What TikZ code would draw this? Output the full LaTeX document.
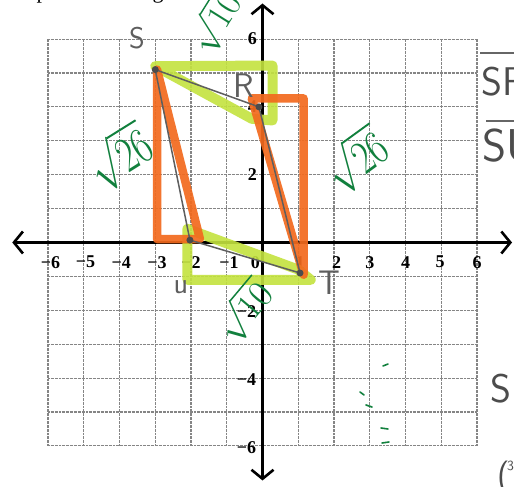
\documentclass[tikz,border=0pt]{standalone}
\usepackage{fontspec}
\setmainfont{Liberation Serif}
\usetikzlibrary{arrows.meta}
\definecolor{hiorange}{HTML}{F26A1E}
\definecolor{hilime}{HTML}{C4E33F}
\definecolor{pengreen}{HTML}{11803D}
\definecolor{pencil}{HTML}{5E5E5E}
\begin{document}
\begin{tikzpicture}[
  gridline/.style={black!48, line width=1.1pt, dash pattern=on 0.9pt off 0.45pt},
  axisline/.style={black, line width=2.6pt,
    {Straight Barb[length=9pt,width=22pt]}-{Straight Barb[length=9pt,width=22pt]}},
  ticklab/.style={font=\bfseries\fontsize{18}{18}\selectfont, inner sep=0pt},
  limehl/.style={draw=hilime, line width=10pt, line join=round, line cap=round, opacity=0.9},
  orangehl/.style={draw=hiorange, line width=8.5pt, line join=round, line cap=round, opacity=0.92},
  pencilline/.style={draw=pencil, line width=1.5pt},
  vdot/.style={circle, fill=pencil!80!black, inner sep=0pt, minimum size=7pt},
  handlab/.style={text=pencil, font=\sffamily\fontsize{30}{30}\selectfont, inner sep=0pt},
  rootlab/.style={text=pengreen, font=\fontsize{24}{24}\selectfont, inner sep=0pt},
  frag/.style={text=black!70, font=\sffamily\fontsize{40}{40}\selectfont, inner sep=0pt, anchor=west},
]
\clip (0,0) rectangle (514pt,487pt);
\fill[white] (0,0) rectangle (514pt,487pt);

% ---------------- graph in grid units ----------------
\begin{scope}[shift={(262.5pt,244.5pt)}, x=35.75pt, y=33.9pt]
  \foreach \i in {-6,...,6} {
    \draw[gridline] (\i,-6) -- (\i,6);
    \draw[gridline] (-6,\i) -- (6,\i);
  }
  \coordinate (xl) at (-7,0);
  \coordinate (xr) at (6.98,0);
  \coordinate (yb) at (0,-7.02);
  \coordinate (yt) at (0,7.05);
  \draw[axisline] (xl) -- (xr);
  \draw[axisline] (yb) -- (yt);

  % tick labels
  \foreach \v/\p in {6/-5.93,5/-4.95,4/-3.95,3/-2.95,2/-2.0,1/-0.94}
    \node[ticklab] (xtm\v) at (\p,-0.58) {−\v};
  \node[ticklab] (xt0) at (-0.2,-0.58) {0};
  \foreach \v/\p in {1/1.05,2/2.07,3/3.0,4/4.0,5/4.97,6/6.0}
    \node[ticklab] (xt\v) at (\p,-0.58) {\v};
  \foreach \v in {2,4,6}
    \node[ticklab, anchor=east] (yt\v) at (-0.15,\v) {\v};
  \foreach \v in {2,4,6}
    \node[ticklab, anchor=east] (ytm\v) at (-0.17,-\v-0.05) {−\v};

  % points
  \coordinate (S) at (-3,5.1);
  \coordinate (R) at (-0.1,4.0);
  \coordinate (T) at (1.05,-0.9);
  \coordinate (U) at (-2.03,0.07);

  % lime highlights
  \coordinate (g1) at (-3.0,5.2);
  \coordinate (g2) at (0.28,5.22);
  \coordinate (g3) at (0.28,3.6);
  \coordinate (g4) at (-0.3,3.65);
  \draw[limehl] (g1) -- (g2) -- (g3) -- (g4) -- cycle;
  \coordinate (h1) at (-2.1,0.4);
  \coordinate (h2) at (-2.1,-1.1);
  \coordinate (h3) at (1.35,-1.1);
  \coordinate (h4) at (1.0,-0.8);
  \draw[limehl] (h1) -- (h2) -- (h3) -- (h4) -- cycle;

  % orange highlights
  \coordinate (o1) at (-2.95,5.1);
  \coordinate (o2) at (-2.95,0.1);
  \coordinate (o3) at (-1.75,0.1);
  \draw[orangehl] (o1) -- (o2) -- (o3) -- cycle;
  \coordinate (p1) at (-0.3,4.25);
  \coordinate (p2) at (1.15,4.25);
  \coordinate (p3) at (1.15,-0.95);
  \draw[orangehl] (p1) -- (p2) -- (p3) -- cycle;

  % pencil quadrilateral
  \draw[pencilline] (S) -- (R) -- (T) -- (U) -- cycle;
  \node[vdot] (Sd) at (S) {};
  \node[vdot] (Rd) at (R) {};
  \node[vdot] (Td) at (T) {};
  \node[vdot] (Ud) at (U) {};
\end{scope}

% ---------------- handwriting in pixel units ----------------
\begin{scope}[x=1pt, y=-1pt, shift={(0pt,487pt)}]
  % cut-off text at the top
  \node[font=\fontsize{22}{22}\selectfont, inner sep=0pt, anchor=base] (tp) at (42,-1) {p};
  \node[font=\fontsize{22}{22}\selectfont, inner sep=0pt, anchor=base] (tg) at (158,-1) {g};

  % point labels
  \node[handlab] (Sl) at (137,38) {S};
  \node[handlab, font=\sffamily\fontsize{34}{34}\selectfont] (Rl) at (244,86) {R};
  \node[handlab, font=\sffamily\fontsize{34}{34}\selectfont] (Tl) at (329,283) {T};
  \node[handlab] (Ul) at (181,287) {u};

  % green radicals
  \node[rootlab, rotate=58, scale=1.45] (r1) at (215,22) {$\sqrt{10}$};
  \node[rootlab, rotate=32, xscale=1.5, yscale=2.0] (r2) at (120,157) {$\sqrt{26}$};
  \node[rootlab, rotate=36, xscale=1.5, yscale=1.9] (r3) at (356,160) {$\sqrt{26}$};
  \node[rootlab, rotate=50, scale=1.5] (r4) at (244,311) {$\sqrt{10}$};

  % stray green marks
  \foreach \a/\b/\c/\d in {383/366/388/364, 360/392/364/395, 366/405/372/407, 381/428/388/429, 382/443/389/442}
    \draw[pengreen, line width=1.6pt, line cap=round] (\a,\b) -- (\c,\d);

  % fragments at the right edge
  \coordinate (b1a) at (480,53);
  \coordinate (b1b) at (520,53);
  \draw[black!60, line width=2pt] (b1a) -- (b1b);
  \node[frag] (f1) at (481,82) {SR};
  \coordinate (b2a) at (486,121);
  \coordinate (b2b) at (520,121);
  \draw[black!60, line width=2pt] (b2a) -- (b2b);
  \node[frag, font=\sffamily\fontsize{46}{46}\selectfont] (f2) at (482,146) {SU};
  \node[frag] (f3) at (490,389) {S};
  \node[frag, font=\sffamily\fontsize{34}{34}\selectfont] (f4) at (497,478) {(};
  \node[frag, font=\sffamily\fontsize{14}{14}\selectfont] (f5) at (507,466) {3};
\end{scope}
\end{tikzpicture}
\end{document}
